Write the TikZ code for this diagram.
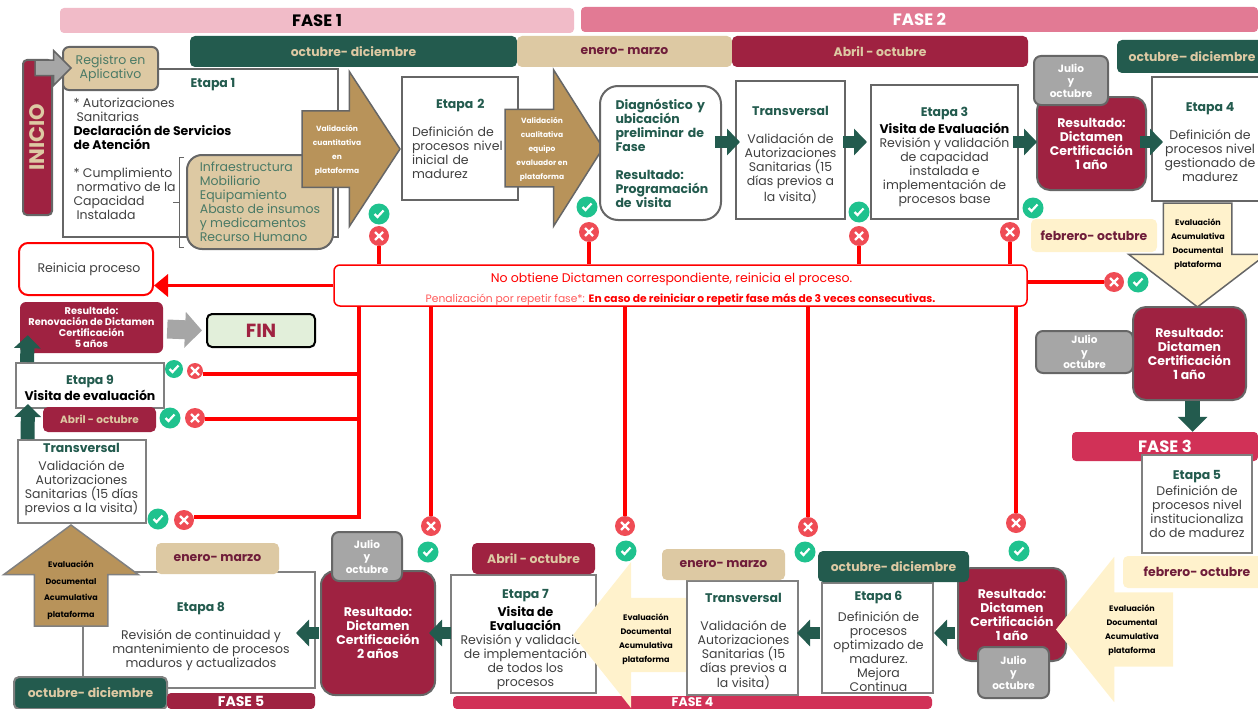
\documentclass[tikz,border=0pt]{standalone}
\usepackage{fontspec}
\setmainfont{Poppins}
\usepackage{tikz}
\usetikzlibrary{shapes, arrows, arrows.meta, calc}

\definecolor{deepgreen}{HTML}{235B4E}
\definecolor{softgreen}{HTML}{4A7A66}
\definecolor{maroon}{HTML}{9F2241}
\definecolor{wine}{HTML}{6F1D3A}
\definecolor{sand}{HTML}{DDC9A3}
\definecolor{cream}{HTML}{FFF2CC}
\definecolor{bronze}{HTML}{B8935A}
\definecolor{framegray}{HTML}{666666}
\definecolor{framelight}{HTML}{808080}
\definecolor{midgray}{HTML}{A6A6A6}
\definecolor{bodygray}{HTML}{404040}
\definecolor{rose}{HTML}{F1BBC8}
\definecolor{rosedeep}{HTML}{E27A94}
\definecolor{crimson}{HTML}{D13157}
\definecolor{okgreen}{HTML}{1FC28E}
\definecolor{nored}{HTML}{EF4C55}
\definecolor{mint}{HTML}{E2EFDA}

\newcommand{\bodysize}{\fontsize{12.5}{14}\selectfont}
\newcommand{\datesize}{\fontsize{12.4}{14}\selectfont\bfseries}
\newcommand{\resultsize}{\fontsize{12.5}{14}\selectfont\bfseries}
\newcommand{\julysize}{\fontsize{10.5}{12.5}\selectfont\bfseries}
\newcommand{\tinysize}{\fontsize{7.5}{14}\selectfont\bfseries}
\newcommand{\blacksize}{\fontsize{8}{14}\selectfont\bfseries}
\newcommand{\phasesize}{\fontsize{16.5}{17}\selectfont\bfseries}
\newcommand{\stagetitle}[1]{\textcolor{deepgreen}{\textbf{#1}}}

\tikzstyle{stagebox} = [rectangle, draw=framegray, line width=2pt, fill=white,
    align=center, text=bodygray, font=\bodysize]
\tikzstyle{softbox} = [stagebox, draw=framelight]
\tikzstyle{stagetext} = [align=center, text=bodygray, font=\bodysize]
\tikzstyle{resultbox} = [rectangle, rounded corners=13pt, draw=framegray, line width=2pt,
    fill=maroon, text=white, align=center, font=\resultsize]
\tikzstyle{julybox} = [rectangle, rounded corners=7pt, draw=framegray, line width=2pt,
    fill=midgray, text=white, align=center, font=\julysize]
\tikzstyle{datebox} = [rectangle, rounded corners=5pt, font=\datesize]
\tikzstyle{phasebar} = [rectangle, rounded corners=4pt, font=\phasesize, text=white]
\tikzstyle{bigarrow} = [single arrow, inner sep=0pt, outer sep=0pt, anchor=tail]
\tikzstyle{arrowtext} = [align=center, font=\tinysize]
\tikzstyle{flowline} = [draw=deepgreen, line width=12pt, -{Triangle[length=13pt,width=26pt]}]
\tikzstyle{redline} = [draw=red, line width=3.5pt]
\tikzstyle{okmark} = [circle, fill=okgreen, minimum size=21pt, inner sep=0pt,
    path picture={\draw[white, line width=2.2pt] (path picture bounding box.center)
        ++(-4.5pt,0pt) -- ++(3pt,-3pt) -- ++(6pt,6.5pt);}]
\tikzstyle{nomark} = [circle, fill=nored, minimum size=20pt, inner sep=0pt,
    path picture={\draw[white, line width=2.2pt] (path picture bounding box.center)
        ++(-4pt,-4pt) -- ++(8pt,8pt) ++(-8pt,0pt) -- ++(8pt,-8pt);}]

\begin{document}
\begin{tikzpicture}[x=1pt, y=-1pt]
    \useasboundingbox (0,0) rectangle (1258,709);

    % phase bars and dates along the top
    \node[phasebar, fill=rose, text=black, minimum width=514pt, minimum height=25pt] (fase1) at (317,20.5) {FASE 1};
    \node[phasebar, fill=rosedeep, minimum width=677pt, minimum height=25pt] (fase2) at (919.5,19.5) {FASE 2};
    \node[datebox, fill=deepgreen, text=sand, minimum width=327pt, minimum height=31pt] (date1) at (353.5,51.5) {octubre- diciembre};
    \node[datebox, fill=sand, text=wine, minimum width=215pt, minimum height=31pt] (date2) at (624.5,51.5) {enero- marzo};
    \node[datebox, fill=maroon, text=sand, minimum width=296pt, minimum height=31pt] (date3) at (880,51.5) {Abril - octubre};
    \node[datebox, fill=deepgreen, text=sand, minimum width=150pt, minimum height=33pt] (date4) at (1192,56.5) {octubre– diciembre};

    % start of the flow
    \node[rectangle, rounded corners=4pt, draw=framegray, line width=2pt, fill=maroon, text=sand,
        minimum width=29pt, minimum height=155pt] (inicio) at (37.5,137.5) {\rotatebox{90}{\fontsize{21}{22}\selectfont\bfseries INICIO}};
    \node[stagebox, minimum width=275pt, minimum height=168pt] (etapa1) at (200.5,153) {};
    \node[rectangle, rounded corners=6pt, draw=framegray, line width=2pt, fill=sand, text=softgreen, align=center,
        font=\bodysize, minimum width=95pt, minimum height=43pt] (registro) at (110.5,68.5) {Registro en\\Aplicativo};
    \node[bigarrow, draw=framegray, line width=1.5pt, fill=midgray, minimum height=36pt, inner ysep=7pt,
        single arrow head extend=9.5pt] (startarrow) at (35,68) {};
    \node[font=\bodysize] (etapa1title) at (213,85) {\stagetitle{Etapa 1}};
    \node[stagetext, align=left, anchor=west] (autoriza) at (70,124) {* Autorizaciones\\\hspace*{3pt}Sanitarias\\\textcolor{black}{\textbf{Declaración de Servicios}}\\\textcolor{black}{\textbf{de Atención}}};
    \node[stagetext, align=left, anchor=west] (cumple) at (70,194) {* Cumplimiento\\\hspace*{3pt}normativo de la\\Capacidad\\\hspace*{3pt}Instalada};
    \node[rectangle, rounded corners=15pt, draw=framegray, line width=2pt, fill=sand, text=softgreen, align=left,
        font=\bodysize, minimum width=146pt, minimum height=94pt] (recursos) at (260,202) {Infraestructura\\Mobiliario\\Equipamiento\\Abasto de insumos\\y medicamentos\\Recurso Humano};
    \coordinate (braceTop) at (184,157);
    \coordinate (braceTick) at (173,202);
    \draw[framegray, line width=1pt] (braceTop) -- ++(-5,0) -- ++(0,90) -- ++(5,0);
    \draw[framegray, line width=1pt] (braceTick) -- ++(6,0);

    % top row
    \node[stagebox, text width=96pt, align=left, minimum width=116pt, minimum height=123pt, right of=etapa1, node distance=259.5pt, yshift=14.5pt] (etapa2)
        {\hspace*{24pt}\stagetitle{Etapa 2}\\[14pt]Definición de\\procesos nivel\\inicial de\\madurez};
    \node[bigarrow, draw=framegray, line width=1.5pt, fill=bronze, minimum height=98pt, inner ysep=37.5pt,
        single arrow head extend=39pt, single arrow tip angle=113.6] (valida1) at (302,149) {};
    \node[arrowtext, text=white] (valida1txt) at (337,150) {Validación\\cuantitativa\\en\\plataforma};
    \node[bigarrow, draw=framegray, line width=1.5pt, fill=bronze, minimum height=98pt, inner ysep=38pt,
        single arrow head extend=39.5pt, single arrow tip angle=115.4] (valida2) at (505,148) {};
    \node[arrowtext, text=white] (valida2txt) at (542,149) {Validación\\cualitativa\\equipo\\evaluador en\\plataforma};
    \node[stagebox, rounded corners=18pt, text=deepgreen, font=\bodysize\bfseries, align=left, text width=90pt, minimum width=121pt, minimum height=134pt, right of=etapa2, node distance=200.5pt, yshift=-14.5pt] (diagnostico)
        {Diagnóstico y\\ubicación\\preliminar de\\Fase\\[14pt]Resultado:\\Programación\\de visita};
    \node[stagebox, minimum width=109pt, minimum height=138pt, right of=diagnostico, node distance=130pt, yshift=3pt] (trans1) {};
    \node[stagetext, below of=trans1, node distance=5pt] (trans1txt)
        {\stagetitle{Transversal}\\[14pt]Validación de\\Autorizaciones\\Sanitarias (15\\días previos a\\la visita)};
    \node[stagebox, minimum width=147pt, minimum height=134pt, right of=trans1, node distance=154pt, yshift=-2pt] (etapa3) {};
    \node[stagetext, below of=etapa3, node distance=4.5pt] (etapa3txt)
        {\stagetitle{Etapa 3}\\[3pt]\textcolor{black}{\textbf{Visita de Evaluación}}\\Revisión y validación\\de capacidad\\instalada e\\implementación de\\procesos base};
    \node[resultbox, minimum width=109pt, minimum height=93pt, right of=etapa3, node distance=147pt, yshift=8.5pt] (result1)
        {Resultado:\\Dictamen\\Certificación\\1 año};
    \node[julybox, minimum width=74pt, minimum height=49pt] (julio1) at (1071,80.5) {Julio\\y\\octubre};
    \node[stagebox, minimum width=116pt, minimum height=124pt, right of=result1, node distance=118.5pt, yshift=4.5pt] (etapa4) {};
    \node[stagetext, below of=etapa4, node distance=3pt] (etapa4txt)
        {\stagetitle{Etapa 4}\\[14pt]Definición de\\procesos nivel\\gestionado de\\madurez};

    \coordinate (rowTop) at (0,142);
    \draw[flowline] ([xshift=-7pt]diagnostico.east |- rowTop) -- ([xshift=5pt]trans1.west |- rowTop);
    \draw[flowline] ([xshift=-3pt]trans1.east |- rowTop) -- ([xshift=-3pt]etapa3.west |- rowTop);
    \draw[flowline] ([xshift=-6pt]etapa3.east |- rowTop) -- ([xshift=1pt]result1.west |- rowTop);
    \draw[flowline] ([xshift=-7pt]result1.east |- rowTop) -- ([xshift=12pt]etapa4.west |- rowTop);

    % right column going down
    \node[datebox, fill=cream, text=wine, minimum width=126pt, minimum height=33pt] (date5) at (1094,235.5) {febrero- octubre};
    \node[bigarrow, draw=framegray, line width=1.5pt, fill=cream, shape border rotate=270, minimum height=104pt, inner xsep=33.5pt,
        single arrow head extend=34.5pt, single arrow tip angle=105.2] (evalua1) at (1197.5,203) {};
    \node[arrowtext, text=black, font=\blacksize] (evalua1txt) at (1198,244) {Evaluación\\Acumulativa\\Documental\\plataforma};
    \node[resultbox, minimum width=113pt, minimum height=93pt] (result2) at (1189.5,353.5) {Resultado:\\Dictamen\\Certificación\\1 año};
    \node[julybox, minimum width=97pt, minimum height=42pt, left of=result2, node distance=105pt, yshift=1.5pt] (julio2) {Julio\\y\\octubre};
    \node[phasebar, fill=crimson, minimum width=186pt, minimum height=29pt] (fase3) at (1165,446.5) {FASE 3};
    \draw[draw=deepgreen, line width=15pt, -{Triangle[length=15pt,width=29pt]}] ([xshift=3pt]result2.south) -- ([xshift=3pt]result2.south |- fase3.north);
    \node[softbox, minimum width=110pt, minimum height=98pt, below of=fase3, node distance=57.5pt, xshift=32pt] (etapa5)
        {\stagetitle{Etapa 5}\\[2pt]Definición de\\procesos nivel\\institucionaliza\\do de madurez};

    % bottom row, right to left
    \node[datebox, fill=cream, text=wine, minimum width=148pt, minimum height=32pt] (date6) at (1197,572) {febrero- octubre};
    \node[resultbox, minimum width=108pt, minimum height=93pt] (result3) at (1012,614.5) {Resultado:\\Dictamen\\Certificación\\1 año};
    \node[bigarrow, fill=cream, shape border rotate=180, minimum height=117pt, inner ysep=37pt,
        single arrow head extend=35.5pt, single arrow tip angle=102.6] (evalua2) at (1173,629.5) {};
    \node[arrowtext, text=black, font=\blacksize] (evalua2txt) at (1132,630) {Evaluación\\Documental\\Acumulativa\\plataforma};
    \node[julybox, minimum width=71pt, minimum height=51pt, below of=result3, node distance=58pt, xshift=1.5pt] (julio3) {Julio\\y\\octubre};
    \node[softbox, minimum width=111pt, minimum height=110pt, left of=result3, node distance=134.5pt, yshift=-23.5pt] (etapa6) {};
    \node[stagetext, below of=etapa6, node distance=3pt, xshift=1pt] (etapa6txt)
        {\stagetitle{Etapa 6}\\[7pt]Definición de\\procesos\\optimizado de\\madurez.\\Mejora\\Continua};
    \node[datebox, fill=deepgreen, text=sand, minimum width=151pt, minimum height=31pt] (date7) at (893.5,566.5) {octubre- diciembre};
    \node[phasebar, fill=crimson, inner sep=0pt, font=\fontsize{12.5}{13}\selectfont\bfseries, minimum width=479pt, minimum height=13pt] (fase4) at (692.5,702.5) {FASE 4};
    \node[softbox, minimum width=145pt, minimum height=118pt] (etapa7) at (523.5,634) {};
    \node[stagetext, below of=etapa7, node distance=5.5pt, xshift=2pt] (etapa7txt)
        {\stagetitle{Etapa 7}\\[4pt]\textcolor{black}{\textbf{Visita de}}\\\textcolor{black}{\textbf{Evaluación}}\\Revisión y validación\\de implementación\\de todos los\\procesos};
    \node[datebox, fill=maroon, text=sand, minimum width=123pt, minimum height=31pt] (date8) at (533.5,558.5) {Abril - octubre};
    \node[bigarrow, fill=cream, shape border rotate=180, minimum height=116pt, inner ysep=37pt,
        single arrow head extend=36pt, single arrow tip angle=103] (evalua3) at (689,635) {};
    \node[arrowtext, text=black, font=\blacksize] (evalua3txt) at (646,639) {Evaluación\\Documental\\Acumulativa\\plataforma};
    \node[softbox, minimum width=111pt, minimum height=114pt, left of=etapa6, node distance=135pt] (trans2) {};
    \node[stagetext, below of=trans2, node distance=3.5pt, xshift=1pt] (trans2txt)
        {\stagetitle{Transversal}\\[14pt]Validación de\\Autorizaciones\\Sanitarias (15\\días previos a\\la visita)};
    \node[datebox, fill=sand, text=wine, minimum width=123pt, minimum height=31pt] (date9) at (723.5,564.5) {enero- marzo};
    \node[resultbox, minimum width=114pt, minimum height=124pt, rounded corners=14pt] (result4) at (378,633) {Resultado:\\Dictamen\\Certificación\\2 años};
    \node[julybox, minimum width=70pt, minimum height=49pt] (julio4) at (367,556.5) {Julio\\y\\octubre};
    \node[softbox, minimum width=232pt, minimum height=116pt] (etapa8) at (199,630) {};
    \node[stagetext, below of=etapa8, node distance=6pt, xshift=2pt] (etapa8txt)
        {\stagetitle{Etapa 8}\\[14pt]Revisión de continuidad y\\mantenimiento de procesos\\maduros y actualizados};
    \node[datebox, fill=sand, text=wine, minimum width=123pt, minimum height=31pt] (date10) at (217.5,558.5) {enero- marzo};
    \node[bigarrow, draw=framelight, line width=1.5pt, fill=bronze, shape border rotate=90, minimum height=101pt, inner xsep=36pt,
        single arrow head extend=30.5pt, single arrow tip angle=107.2] (evalua4) at (71,626) {};
    \node[arrowtext, text=black, font=\fontsize{8}{16.5}\selectfont\bfseries] (evalua4txt) at (71,590) {Evaluación\\Documental\\Acumulativa\\plataforma};
    \node[datebox, draw=framelight, line width=2pt, fill=deepgreen, text=sand, minimum width=153pt, minimum height=32pt] (date11) at (90.5,693) {octubre- diciembre};
    \node[phasebar, fill=maroon, inner sep=0pt, font=\fontsize{14}{14}\selectfont\bfseries, minimum width=148pt, minimum height=16pt] (fase5) at (241,701) {FASE 5};

    \coordinate (rowBottom) at (0,633);
    \draw[flowline] ([xshift=-2pt]result3.west |- rowBottom) -- (etapa6.east |- rowBottom);
    \draw[flowline] ([xshift=-1pt]etapa6.west |- rowBottom) -- ([xshift=-2pt]trans2.east |- rowBottom);
    \draw[flowline] ([xshift=15pt]result4.east |- rowBottom) -- ([xshift=-7pt]result4.east |- rowBottom);
    \draw[flowline] ([xshift=-1pt]result4.west |- rowBottom) -- ([xshift=-20pt]etapa8.east |- rowBottom);

    % left column going up
    \node[softbox, minimum width=128pt, minimum height=83pt] (trans3) at (81.5,481.5) {};
    \node[stagetext, above of=trans3, node distance=2.5pt] (trans3txt)
        {\stagetitle{Transversal}\\[4pt]Validación de\\Autorizaciones\\Sanitarias (15 días\\previos a la visita)};
    \node[softbox, minimum width=148pt, minimum height=45pt, above of=trans3, node distance=96pt, xshift=8.5pt] (etapa9) {};
    \node[stagetext, below of=etapa9, node distance=2pt] (etapa9txt)
        {\stagetitle{Etapa 9}\\[2pt]\textcolor{black}{\textbf{Visita de evaluación}}};
    \node[datebox, fill=maroon, text=sand, font=\fontsize{10.5}{14}\selectfont\bfseries, minimum width=113pt, minimum height=25pt] (date12) at (99.5,419.5) {Abril - octubre};
    \node[rectangle, rounded corners=6pt, fill=maroon, text=white, align=center, font=\fontsize{9.8}{11}\selectfont\bfseries,
        minimum width=143pt, minimum height=51pt] (result5) at (91.5,327.5) {Resultado:\\Renovación de Dictamen\\Certificación\\5 años};
    \node[rectangle, rounded corners=5pt, draw=black, line width=2pt, fill=mint, text=maroon, font=\fontsize{19}{20}\selectfont\bfseries,
        minimum width=108pt, minimum height=33pt, right of=result5, node distance=169.5pt, yshift=-3pt] (fin) {FIN};
    \draw[flowline, line width=14pt] ([xshift=11pt]trans3.north west) -- ([xshift=13pt, yshift=5pt]etapa9.south west);
    \draw[flowline, line width=14pt] ([xshift=12pt]etapa9.north west) -- ([xshift=8pt, yshift=18pt]result5.south west);
    \draw[draw=midgray, line width=19pt, -{Triangle[length=17pt,width=35pt]}] ([xshift=4pt,yshift=-1.5pt]result5.east) -- ([xshift=-4pt]fin.west);

    % restart boxes
    \node[rectangle, rounded corners=9pt, draw=red, line width=2pt, fill=white, text=bodygray, font=\bodysize,
        minimum width=134pt, minimum height=52pt] (reinicia) at (86,269) {\hspace*{6pt}Reinicia proceso};
    \node[rectangle, rounded corners=6pt, draw=red, line width=1.5pt, fill=white,
        minimum width=693pt, minimum height=41pt] (aviso) at (680.5,285.5) {};
    \node[below of=aviso, node distance=3.5pt, text=red, align=center] (avisotxt)
        {{\fontsize{12.5}{14}\selectfont No obtiene Dictamen correspondiente, reinicia el proceso.\hspace*{18pt}}\\[7pt]
        {\fontsize{10.7}{11}\selectfont\textcolor{red!65}{Penalización por repetir fase*:} \textbf{En caso de reiniciar o repetir fase más de 3 veces consecutivas.}}};

    % pass and fail marks
    \node[okmark] (ok1) at (379,214) {};
    \node[nomark, below of=ok1, node distance=22pt] (no1) {};
    \node[okmark] (ok2) at (587,207) {};
    \node[nomark, below of=ok2, node distance=25pt, xshift=2pt] (no2) {};
    \node[okmark] (ok3) at (859,212) {};
    \node[nomark, below of=ok3, node distance=24pt] (no3) {};
    \node[okmark] (ok4) at (1033,208) {};
    \node[nomark] (no4) at (1010,232) {};
    \node[nomark] (no5) at (1114,282) {};
    \node[okmark, right of=no5, node distance=24pt] (ok5) {};
    \node[okmark, minimum size=18pt] (ok6) at (174,369) {};
    \node[nomark, minimum size=16pt, right of=ok6, node distance=21pt, yshift=-2pt] (no6) {};
    \node[okmark] (ok7) at (170,418) {};
    \node[nomark, right of=ok7, node distance=25pt] (no7) {};
    \node[okmark] (ok8) at (158,519) {};
    \node[nomark, right of=ok8, node distance=26pt, yshift=-1pt] (no8) {};
    \node[nomark] (no9) at (431,526) {};
    \node[okmark, below of=no9, node distance=26pt, xshift=-3pt] (ok9) {};
    \node[nomark] (no10) at (625,526) {};
    \node[okmark, below of=no10, node distance=25pt, xshift=1pt] (ok10) {};
    \node[nomark] (no11) at (808,527) {};
    \node[okmark, below of=no11, node distance=25pt, xshift=-3pt] (ok11) {};
    \node[nomark] (no12) at (1016,523) {};
    \node[okmark, below of=no12, node distance=28pt, xshift=3pt] (ok12) {};

    % red connectors
    \draw[redline, -{Triangle[length=14pt,width=22pt]}] (aviso.west) -- (aviso.west -| reinicia.east);
    \draw[redline] (no1.south) -- (no1.south |- aviso.north);
    \draw[redline] (no2.south) -- (no2.south |- aviso.north);
    \draw[redline] (no3.south) -- (no3.south |- aviso.north);
    \draw[redline] (no4.south) -- (no4.south |- aviso.north);
    \draw[redline] (aviso.east |- no5) -- (no5.west);
    \coordinate (trunk) at (359,306);
    \draw[redline] (trunk) |- ([yshift=3pt]no8.east);
    \draw[redline] ([yshift=-3pt]no6.east) -- ([yshift=-3pt]no6.east -| trunk);
    \draw[redline] ([yshift=-1pt]no7.east) -- ([yshift=-1pt]no7.east -| trunk);
    \draw[redline] (no9.north |- aviso.south) -- (no9.north);
    \draw[redline] (no10.north |- aviso.south) -- (no10.north);
    \draw[redline] (no11.north |- aviso.south) -- (no11.north);
    \draw[redline] (no12.north |- aviso.south) -- (no12.north);
\end{tikzpicture}
\end{document}
